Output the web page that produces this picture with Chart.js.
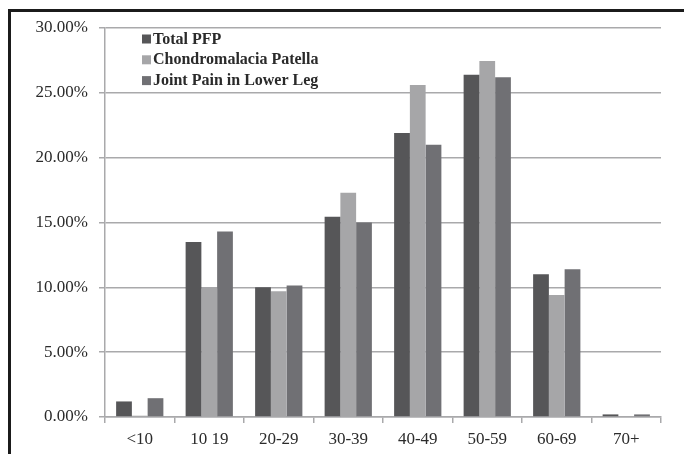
<!DOCTYPE html>
<html>
<head>
<meta charset="utf-8">
<script src="https://cdn.jsdelivr.net/npm/chart.js@4/dist/chart.umd.min.js"></script>
<style>
  html, body { margin: 0; padding: 0; background: #fff; }
  #wrap { position: relative; width: 684px; height: 454px; overflow: hidden; }
  #c { position: absolute; left: 0; top: 0; }
  #frame { position: absolute; left: 8px; top: 9px; width: 720px; height: 500px;
           border-left: 3px solid #1b1b1b; border-top: 3px solid #1b1b1b; pointer-events: none; }
</style>
</head>
<body>
<div id="wrap">
  <canvas id="c" width="684" height="454"></canvas>
  <div id="frame"></div>
</div>
<script>
// Age groups along the x axis
const ageGroups = ['<10', '10 19', '20-29', '30-39', '40-49', '50-59', '60-69', '70+'];

// Share of patients in each age group (percent)
const totalPFP = [1.2, 13.5, 10.0, 15.45, 21.9, 26.4, 11.0, 0.2];
const chondromalaciaPatella = [0.1, 10.0, 9.7, 17.3, 25.6, 27.45, 9.4, 0.0];
const jointPainLowerLeg = [1.45, 14.3, 10.15, 15.0, 21.0, 26.2, 11.4, 0.2];

// Y axis range and step (percent)
const yMax = 30;
const yStep = 5;

const seriesNames = ['Total PFP', 'Chondromalacia Patella', 'Joint Pain in Lower Leg'];
const seriesColors = ['#565658', '#a6a6a8', '#707074'];

const gridColor = '#a9a9ab';
const serif = "'Liberation Serif', 'DejaVu Serif', serif";

// Legend drawn inside the plot area, top-left
const insideLegend = {
  id: 'insideLegend',
  afterDraw(chart) {
    const ctx = chart.ctx;
    const area = chart.chartArea;
    const x0 = area.left + 37;
    const y0 = area.top + 11;
    const rowGap = 20.8;
    ctx.save();
    ctx.font = 'bold 16px ' + serif;
    ctx.textBaseline = 'middle';
    chart.data.datasets.forEach((ds, i) => {
      const y = y0 + i * rowGap;
      ctx.fillStyle = ds.backgroundColor;
      ctx.fillRect(x0, y - 4.5, 9, 9);
      ctx.fillStyle = '#2a2a2a';
      ctx.fillText(ds.label, x0 + 11, y + 0.5);
    });
    ctx.restore();
  }
};

const seriesData = [totalPFP, chondromalaciaPatella, jointPainLowerLeg];

new Chart(document.getElementById('c'), {
  type: 'bar',
  data: {
    labels: ageGroups,
    datasets: seriesData.map((vals, i) => ({
      label: seriesNames[i],
      data: vals,
      backgroundColor: seriesColors[i],
      borderWidth: 0,
      categoryPercentage: 0.68,
      barPercentage: 1.0
    }))
  },
  options: {
    responsive: false,
    animation: false,
    layout: { padding: { left: 0, top: 28, right: 23, bottom: 0 } },
    plugins: {
      legend: { display: false },
      tooltip: { enabled: false }
    },
    scales: {
      x: {
        afterFit(scale) { scale.height = 37; },
        grid: {
          offset: true,
          drawOnChartArea: false,
          drawTicks: true,
          tickLength: 6,
          color: gridColor,
          lineWidth: 1.5
        },
        border: { color: gridColor, width: 1.5 },
        ticks: {
          color: '#2b2b2b',
          padding: 6,
          font: { family: serif, size: 17 }
        }
      },
      y: {
        min: 0,
        max: yMax,
        afterFit(scale) { scale.width = 105; },
        grid: {
          color: gridColor,
          lineWidth: 1.5,
          tickLength: 6
        },
        border: { color: gridColor, width: 1.5 },
        ticks: {
          stepSize: yStep,
          color: '#2b2b2b',
          padding: 11,
          font: { family: serif, size: 17 },
          callback: v => v.toFixed(2) + '%'
        }
      }
    }
  },
  plugins: [insideLegend]
});
</script>
</body>
</html>
